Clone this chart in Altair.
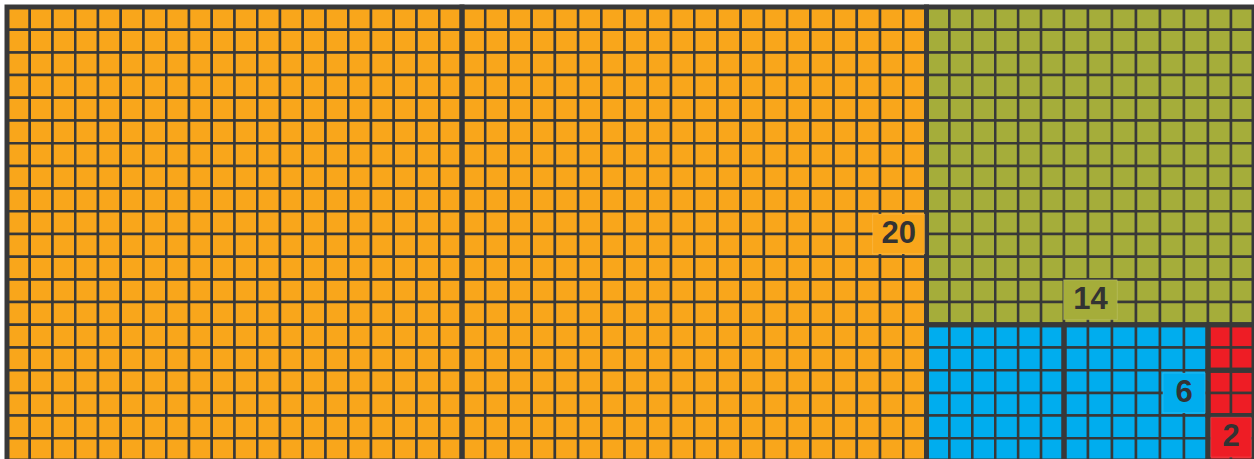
import altair as alt
import pandas as pd

# Groups (label = side length of each square block)
group_names = ["20", "14", "6", "2"]
group_colors = ["#F9A61B", "#A5AD3A", "#00ADEE", "#EE1D25"]

# Square blocks of unit cells (grid units: columns / rows)
block_group = ["20", "20", "14", "6", "6", "2", "2", "2"]
block_col = [0, 20, 40, 40, 46, 52, 52, 52]
block_row = [0, 0, 0, 14, 14, 14, 16, 18]
block_side = [20, 20, 14, 6, 6, 2, 2, 2]

# Label anchors (grid units)
label_col = [38.8, 47.1, 51.0, 53.0]
label_row = [10.0, 12.9, 17.0, 18.95]

cells = []
for g, c0, r0, s in zip(block_group, block_col, block_row, block_side):
    for i in range(s):
        for j in range(s):
            cells.append({"group": g, "c0": c0 + i, "c1": c0 + i + 1,
                          "r0": r0 + j, "r1": r0 + j + 1})
cells_df = pd.DataFrame(cells)

blocks_df = pd.DataFrame({
    "group": block_group,
    "c0": block_col,
    "c1": [c + s for c, s in zip(block_col, block_side)],
    "r0": block_row,
    "r1": [r + s for r, s in zip(block_row, block_side)],
})

lab_rows = []
for g, lc, lr in zip(group_names, label_col, label_row):
    hw = 0.64 + 0.24 * len(g)
    lab_rows.append({"group": g, "lc": lc, "lr": lr,
                     "c0": lc - hw, "c1": lc + hw, "r0": lr - 0.88, "r1": lr + 0.88})
labels_df = pd.DataFrame(lab_rows)

W, H = 1247, 454
# piecewise-linear column scale (block columns are slightly unequal in width)
xs = alt.Scale(domain=[0, 20, 40, 46, 52, 54], range=[0, 455, 919.5, 1057, 1201, 1247],
               nice=False, zero=False)
ys = alt.Scale(domain=[0, 20], nice=False, zero=False, reverse=True)
cs = alt.Scale(domain=group_names, range=group_colors)

line_color = "#383838"

cell_layer = alt.Chart(cells_df).mark_rect(stroke=line_color, strokeWidth=2.5).encode(
    x=alt.X("c0:Q", scale=xs, axis=None),
    x2="c1:Q",
    y=alt.Y("r0:Q", scale=ys, axis=None),
    y2="r1:Q",
    color=alt.Color("group:N", scale=cs, legend=None),
)

block_layer = alt.Chart(blocks_df).mark_rect(
    fillOpacity=0, stroke=line_color, strokeWidth=5
).encode(
    x=alt.X("c0:Q", scale=xs, axis=None),
    x2="c1:Q",
    y=alt.Y("r0:Q", scale=ys, axis=None),
    y2="r1:Q",
)

box_layer = alt.Chart(labels_df).mark_rect(
    stroke="white", strokeOpacity=0.15, strokeWidth=1
).encode(
    x=alt.X("c0:Q", scale=xs, axis=None),
    x2="c1:Q",
    y=alt.Y("r0:Q", scale=ys, axis=None),
    y2="r1:Q",
    color=alt.Color("group:N", scale=cs, legend=None),
)

text_layer = alt.Chart(labels_df).mark_text(
    font="Liberation Sans", fontSize=31, fontWeight="bold", color="#333333",
    align="center", baseline="middle"
).encode(
    x=alt.X("lc:Q", scale=xs, axis=None),
    y=alt.Y("lr:Q", scale=ys, axis=None),
    text="group:N",
)

chart = alt.layer(cell_layer, block_layer, box_layer, text_layer).properties(
    width=W, height=H,
    padding={"left": 7, "top": 7, "right": 0, "bottom": 0},
    autosize=alt.AutoSizeParams(type="none"),
    background="white",
).configure_view(stroke=None)

chart.save("out.html", embed_options={"renderer": "svg", "actions": False})
